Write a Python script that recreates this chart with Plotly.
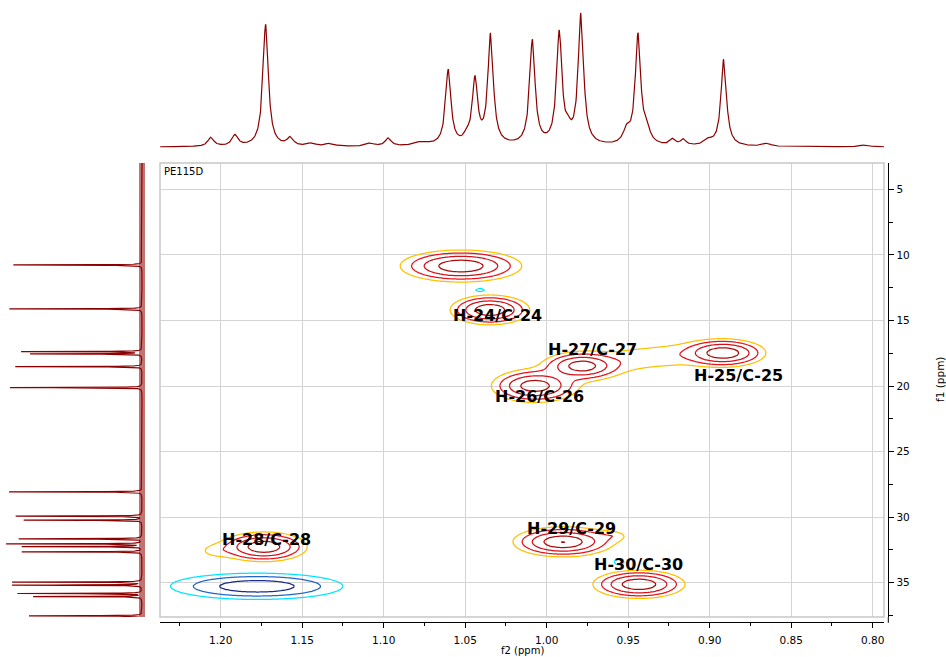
import numpy as np
import plotly.graph_objects as go

W, H = 946, 657

# ---------------- axis ranges (ppm) ----------------
F2_RANGE = [1.2372, 0.7931]      # 1H (x), reversed
F1_RANGE = [37.61, 2.995]        # 13C (y), reversed (top = small ppm)

x_ticks_dtick = 0.05
y_ticks_dtick = 5

# ---------------- 1H projection (top trace) ----------------
h_ppm = [1.2060, 1.1912, 1.1724, 1.1573, 1.1442, 1.1329, 1.1084, 1.0972, 1.0767,
         1.0604, 1.0491, 1.0440, 1.0344, 1.0088, 0.9923, 0.9867, 0.9790, 0.9509,
         0.9440, 0.9387, 0.9227, 0.9162, 0.9009, 0.8914, 0.8650, 0.8047]
h_int = [9, 11, 122, 8, 3, 3, 3, 8, 4,
         75, 6, 64, 110, 104, 111, 9, 130, 13,
         109, 13, 6, 6, 5, 87, 3, 2]
h_fwhm = [0.0045, 0.0045, 0.004, 0.0045, 0.006, 0.006, 0.006, 0.0045, 0.010,
          0.004, 0.004, 0.004, 0.004, 0.004, 0.004, 0.004, 0.004, 0.005,
          0.004, 0.005, 0.004, 0.004, 0.006, 0.004, 0.006, 0.006]

# ---------------- 13C projection (left trace) ----------------
c_ppm = [10.77, 14.12, 17.38, 17.55, 18.52, 20.12, 28.07, 29.92, 30.23,
         31.65, 32.04, 32.24, 32.64, 34.95, 35.18, 35.82, 36.05, 37.52]
c_int = [128.7, 132.7, 120, 111, 126.7, 132, 133, 126, 118,
         123, 135, 119.3, 120, 129.3, 129.3, 124, 108.3, 113]
c_fwhm = 0.03

# ---------------- HSQC cross peaks (positive) ----------------
pk_h = [1.0526, 1.0348, 0.9783, 1.0072, 0.8918, 0.9477, 0.9256, 1.1734, 1.2035, 0.9900, 0.9599, 0.9434]
pk_c = [10.85, 14.20, 18.47, 19.99, 17.48, 17.93, 17.71, 32.26, 32.57, 31.88, 31.42, 35.12]
pk_amp = [1.25, 1.25, 1.10, 1.10, 1.25, 0.10, 0.10, 1.25, 0.10, 1.32, 0.10, 1.25]
pk_wh = [0.0128, 0.0084, 0.0086, 0.0095, 0.0090, 0.0123, 0.0123, 0.0091, 0.0074, 0.0104, 0.0074, 0.0097]
pk_wc = [0.42, 0.39, 0.39, 0.45, 0.37, 0.69, 0.69, 0.39, 0.38, 0.39, 0.30, 0.37]

# ---------------- HSQC cross peaks (negative) ----------------
neg_h = [1.1777, 1.2425, 0.9556, 1.0409]
neg_c = [35.27, 32.42, 33.41, 12.68]
neg_amp = [0.60, 0.10, 0.10, 0.10]
neg_wh = [0.0226, 0.0092, 0.0062, 0.0055]
neg_wc = [0.43, 0.76, 0.44, 0.26]

# ---------------- contour levels / colours ----------------
level_base = 0.08
level_ratio = 2.0
n_levels = 5
pos_colors = ['#FFC000', '#E8141C', '#D4101A', '#B00A0A', '#9A0000']
neg_colors = ['#00E5FF', '#2266CC', '#1A2A8C', '#101870', '#101870']

# ---------------- labels ----------------
lab_text = ['H-24/C-24', 'H-27/C-27', 'H-26/C-26', 'H-25/C-25', 'H-28/C-28', 'H-29/C-29', 'H-30/C-30']
lab_h = [1.0299, 0.9722, 1.0044, 0.8826, 1.1716, 0.9845, 0.9434]
lab_c = [14.66, 17.20, 20.81, 19.21, 31.73, 30.89, 33.58]

SPEC_COLOR = '#8B0000'

# ================= build =================
def lorentz_sum(grid, centers, heights, widths):
    out = np.zeros_like(grid)
    for c0, h0, w0 in zip(centers, heights, widths):
        out += h0 / (1.0 + ((grid - c0) / (w0 / 2.0)) ** 2)
    return out

hx_line = np.arange(F2_RANGE[1], F2_RANGE[0] + 1e-9, 0.0002)
top_y = lorentz_sum(hx_line, h_ppm, h_int, h_fwhm)

cy_line = np.arange(F1_RANGE[1], F1_RANGE[0] + 1e-9, 0.005)
left_x = lorentz_sum(cy_line, c_ppm, c_int, [c_fwhm] * len(c_ppm))

gx = np.arange(0.785, 1.250, 0.0015)
gy = np.arange(2.5, 38.3, 0.15)
GX, GY = np.meshgrid(gx, gy)

def field(hs, cs, amps, whs, wcs):
    z = np.zeros_like(GX)
    for h0, c0, a0, wh, wc in zip(hs, cs, amps, whs, wcs):
        q = 0.5 * ((GX - h0) / wh) ** 2 + 0.5 * ((GY - c0) / wc) ** 2
        z += a0 * np.exp(-q ** 0.7)
    return z

zpos = np.round(np.log10(np.maximum(field(pk_h, pk_c, pk_amp, pk_wh, pk_wc), 1e-3)), 3)
zneg = np.round(np.log10(np.maximum(field(neg_h, neg_c, neg_amp, neg_wh, neg_wc), 1e-3)), 3)

lv0 = np.log10(level_base)
lstep = np.log10(level_ratio)

def discrete_scale(colors):
    n = len(colors)
    cs = []
    for i, c in enumerate(colors):
        lo = max(0.0, (i - 0.5) / (n - 1))
        hi = min(1.0, (i + 0.5) / (n - 1))
        cs.append([lo, c])
        cs.append([hi, c])
    return cs

fig = go.Figure()

# contours
for zz, cols in ((zpos, pos_colors), (zneg, neg_colors)):
    fig.add_trace(go.Contour(
        x=np.round(gx, 4), y=np.round(gy, 3), z=zz,
        autocontour=False,
        contours=dict(start=lv0, end=lv0 + (n_levels - 1) * lstep + 1e-6, size=lstep,
                      coloring='lines', showlabels=False),
        colorscale=discrete_scale(cols), showscale=False,
        line=dict(width=1.25, smoothing=0.5),
        hoverinfo='skip', xaxis='x', yaxis='y'))

# top 1H trace
fig.add_trace(go.Scatter(x=np.round(hx_line, 5), y=np.round(top_y, 2), mode='lines',
                         line=dict(color=SPEC_COLOR, width=1.2), hoverinfo='skip',
                         xaxis='x2', yaxis='y2'))

# left 13C trace: noise band + spectrum
fig.add_trace(go.Scatter(x=[0, 0], y=[F1_RANGE[1], F1_RANGE[0]], mode='lines',
                         line=dict(color='rgba(139,0,0,0.55)', width=6), hoverinfo='skip',
                         xaxis='x3', yaxis='y3'))
fig.add_trace(go.Scatter(x=np.round(left_x, 2), y=np.round(cy_line, 3), mode='lines',
                         line=dict(color=SPEC_COLOR, width=1.2), hoverinfo='skip',
                         xaxis='x3', yaxis='y3'))

# geometry (pixels -> paper)
px = lambda v: v / W
py = lambda v: 1 - v / H
PL, PR, PT, PB = 160, 884, 163, 617
XAXIS_Y = 622.3
YAXIS_X = 888.3

tickfont = dict(family='DejaVu Sans', size=10.5, color='black')

fig.update_layout(
    width=W, height=H, margin=dict(l=0, r=0, t=0, b=0),
    paper_bgcolor='white', plot_bgcolor='white', showlegend=False,
    xaxis=dict(domain=[px(PL), px(PR)], range=F2_RANGE, anchor='free', position=py(XAXIS_Y),
               showline=True, linecolor='black', linewidth=1, ticks='outside', ticklen=5,
               tickcolor='black', tick0=0, dtick=x_ticks_dtick, tickformat='.2f',
               ticklabelstandoff=3,
               showgrid=True, gridcolor='#D4D4D4', gridwidth=1, zeroline=False,
               minor=dict(dtick=0.025, tick0=0, ticks='outside', ticklen=3, tickcolor='black',
                          showgrid=False),
               tickfont=tickfont),
    yaxis=dict(domain=[py(PB), py(PT)], range=F1_RANGE, anchor='free', position=px(YAXIS_X),
               side='right', showline=True, linecolor='black', linewidth=1, ticks='outside',
               ticklen=5, tickcolor='black', tick0=0, dtick=y_ticks_dtick,
               showgrid=True, gridcolor='#D4D4D4', gridwidth=1, zeroline=False,
               minor=dict(dtick=2.5, tick0=0, ticks='outside', ticklen=4, tickcolor='black',
                          showgrid=False),
               tickfont=tickfont),
    xaxis2=dict(domain=[px(PL), px(PR)], range=F2_RANGE, anchor='y2', visible=False),
    yaxis2=dict(domain=[py(PT), 1], range=[-16, 147], anchor='x2', visible=False),
    xaxis3=dict(domain=[0, px(PL)], range=[142, -18], anchor='y3', visible=False),
    yaxis3=dict(domain=[py(PB), py(PT)], range=F1_RANGE, anchor='x3', visible=False),
)

shapes = [
    dict(type='rect', xref='paper', yref='paper', x0=px(PL), x1=px(PR), y0=py(PB), y1=py(PT),
         line=dict(color='#C8C8C8', width=1.5), layer='above'),
    dict(type='line', xref='paper', yref='paper', x0=px(YAXIS_X), x1=px(YAXIS_X),
         y0=py(PB), y1=py(XAXIS_Y + 0.5), line=dict(color='black', width=1)),
]
fig.update_layout(shapes=shapes)

ann = []
for t, hh, cc in zip(lab_text, lab_h, lab_c):
    ann.append(dict(x=hh, y=cc, xref='x', yref='y', text='<b>' + t + '</b>', showarrow=False,
                    font=dict(family='DejaVu Sans', size=16, color='black'),
                    xanchor='center', yanchor='middle'))
ann.append(dict(x=px(162), y=py(171.7), xref='paper', yref='paper', text='PE115D', showarrow=False,
                font=dict(family='DejaVu Sans', size=10, color='black'), xanchor='left', yanchor='middle'))
ann.append(dict(x=px(522), y=0, xref='paper', yref='paper', text='f2 (ppm)', showarrow=False,
                font=dict(family='DejaVu Sans', size=10, color='black'), xanchor='center', yanchor='bottom',
                yshift=-1))
ann.append(dict(x=px(940), y=py(380), xref='paper', yref='paper', text='f1 (ppm)', showarrow=False,
                textangle=-90, font=dict(family='DejaVu Sans', size=10.5, color='black'),
                xanchor='center', yanchor='middle'))
fig.update_layout(annotations=ann)

fig.write_html("out.html", config={'displayModeBar': False},
               post_script="document.body.style.margin='0';document.body.style.overflow='hidden';")
